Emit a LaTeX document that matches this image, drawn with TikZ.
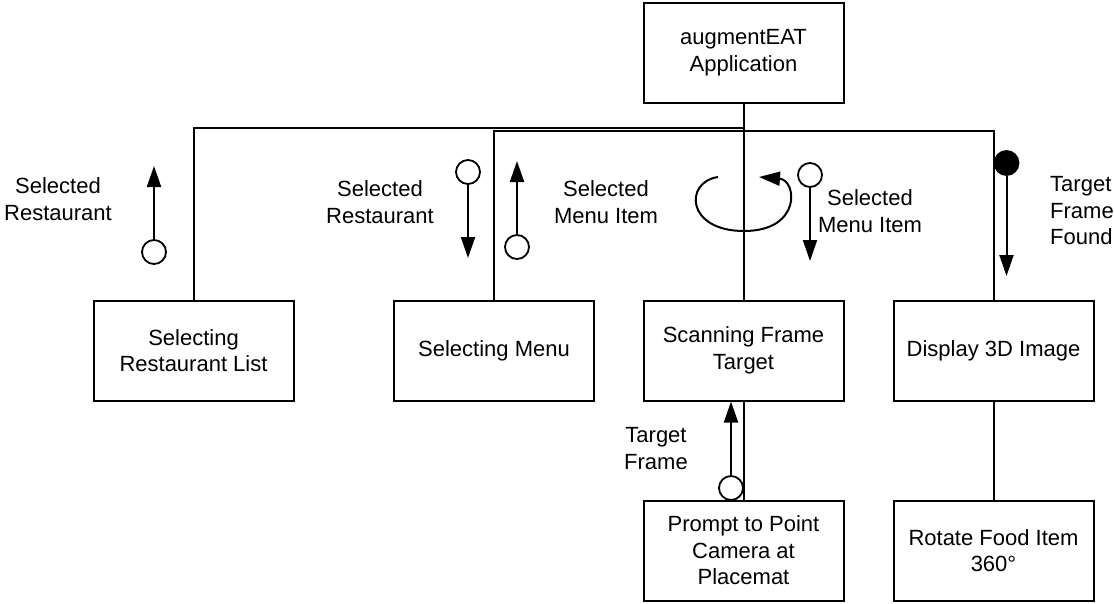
\documentclass[tikz,border=0pt]{standalone}
\usepackage{fontspec}
\setmainfont{Liberation Sans}
\usetikzlibrary{arrows.meta}
\begin{document}
\begin{tikzpicture}[x=1pt,y=-1pt,
  every node/.style={font=\fontsize{22}{26.5}\selectfont},
  box/.style={draw,line width=2pt,minimum width=200pt,minimum height=100pt,align=center,inner sep=2pt},
  lbl/.style={align=center,inner sep=0pt},
  port/.style={draw,circle,line width=1.8pt,minimum size=24pt,inner sep=0pt,fill=white},
  dot/.style={port,fill=black},
  wire/.style={line width=2pt},
  flow/.style={line width=2pt,-{Triangle[length=21pt,width=14pt]}}]
\useasboundingbox (0,0) rectangle (1114,603);

% modules
\node[box] (app) at (743.5,52.5) {augmentEAT\\Application};
\node[box] (srl) at (193.5,350.5) {Selecting\\Restaurant List};
\node[box] (sm)  at (494,350.5) {Selecting Menu};
\node[box] (sft) at (743.5,350.5) {Scanning Frame\\Target};
\node[box] (d3)  at (993.5,350.5) {Display 3D Image};
\node[box] (pp)  at (743.5,550.5) {Prompt to Point\\Camera at\\Placemat};
\node[box] (rf)  at (993.5,550.5) {Rotate Food Item\\360°};

% call structure
\draw[wire] (app.south) -- ++(0,24) -| (srl.north);
\draw[wire] (app.south) -- (sft.north);
\draw[wire] (sm.north) -- ++(0,-169) -| (d3.north);
\draw[wire] (sft.south) -- (pp.north);
\draw[wire] (d3.south) -- (rf.north);

% data couples
\node[port] (c1) at (154,252) {};
\coordinate (t1) at (154,166);
\draw[flow] (c1) -- (t1);
\node[lbl] (l1) at (58,199) {Selected\\Restaurant};

\node[port] (c2) at (468,172) {};
\coordinate (t2) at (468,258);
\draw[flow] (c2) -- (t2);
\node[lbl] (l2) at (380,202) {Selected\\Restaurant};

\node[port] (c3) at (517,247) {};
\coordinate (t3) at (517,161);
\draw[flow] (c3) -- (t3);
\node[lbl] (l3) at (606,202) {Selected\\Menu Item};

\node[port] (c4) at (810,175) {};
\coordinate (t4) at (810,261);
\draw[flow] (c4) -- (t4);
\node[lbl] (l4) at (870,211) {Selected\\Menu Item};

\node[dot] (c5) at (1006.5,163) {};
\coordinate (t5) at (1006.5,276);
\draw[flow] (c5) -- (t5);
\node[lbl,align=left,anchor=west] (l5) at (1050,211) {Target\\Frame\\Found};

\node[port] (c6) at (731,488) {};
\draw[flow] (c6) -- (c6 |- sft.south);
\node[lbl] (l6) at (656,448.5) {Target\\Frame};

% iteration loop
\coordinate (lp0) at (718,177);
\coordinate (lp1) at (759,177);
\draw[flow] (lp0) .. controls (684,182) and (686,231) .. (744,231)
  .. controls (802,231) and (797,180) .. (lp1);
\end{tikzpicture}
\end{document}
